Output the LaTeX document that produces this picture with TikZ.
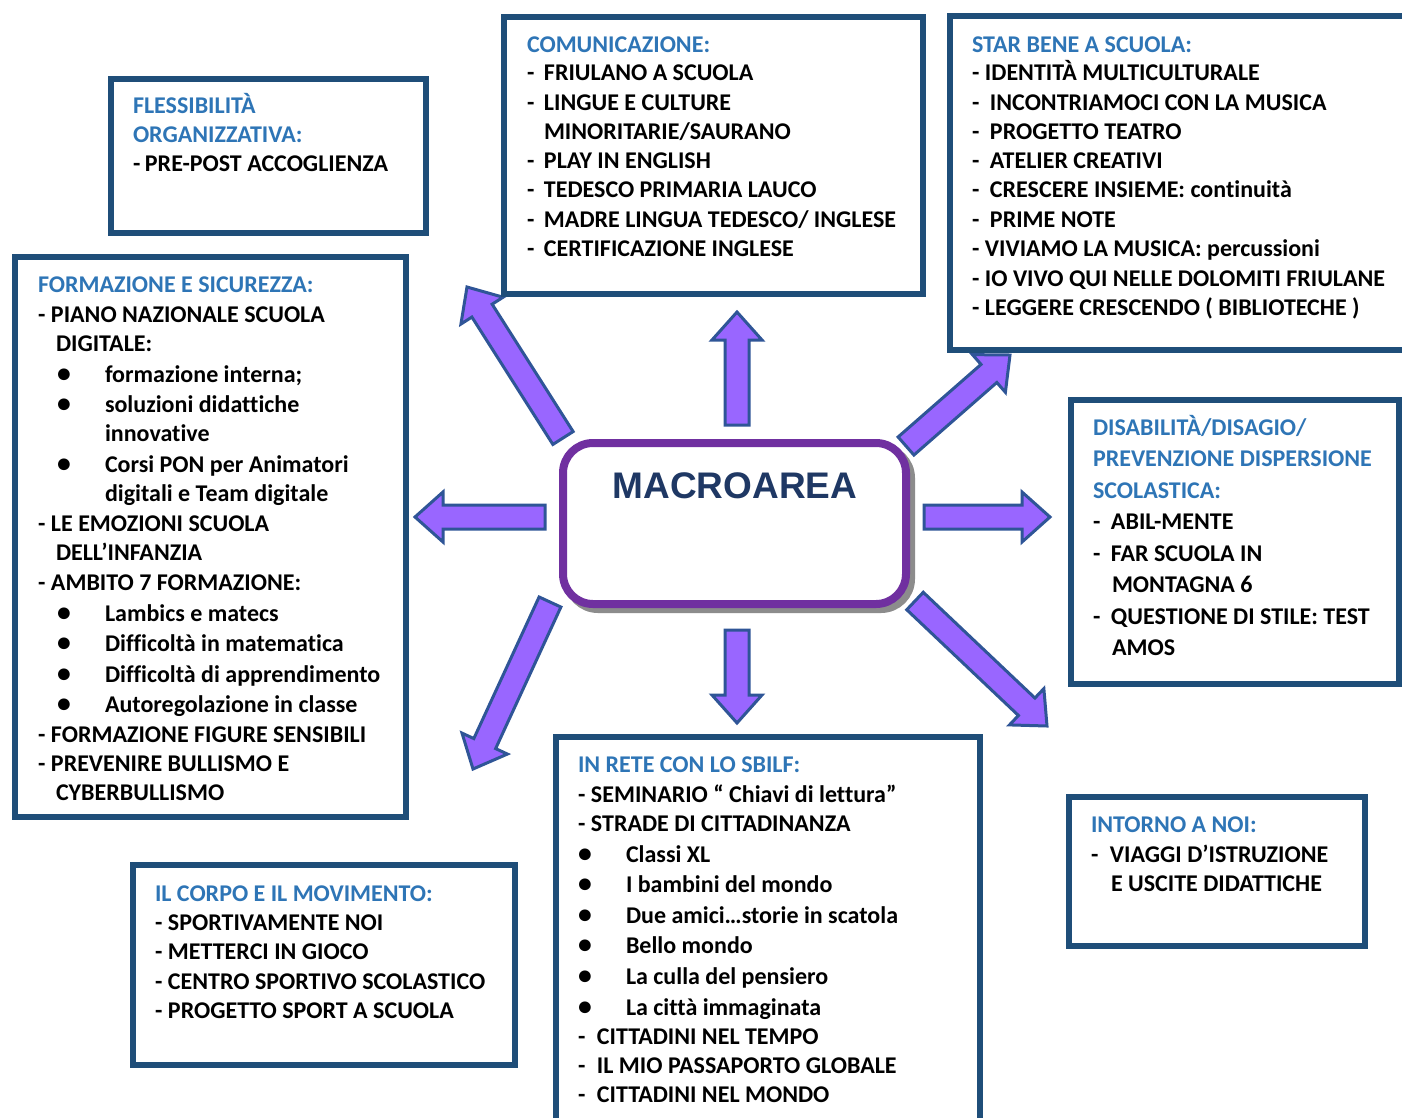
\documentclass[tikz,border=0pt]{standalone}
\usepackage{fontspec}
\newfontfamily\carlito{Carlito}[Ligatures=NoCommon]
\newfontfamily\arialf{Liberation Sans}
\usetikzlibrary{calc}
\definecolor{bordercol}{HTML}{1F4E79}
\definecolor{headblue}{HTML}{2E75B6}
\definecolor{arrowfill}{HTML}{9966FF}
\definecolor{arrowline}{HTML}{2F5597}
\definecolor{purplebox}{HTML}{7030A0}
\definecolor{titlecol}{HTML}{1F3864}
\newcommand\dsh[1]{\makebox[#1pt][l]{-}}
\newcommand\bul[1]{\makebox[#1pt][l]{\raisebox{-0.5pt}{\scalebox{1.15}{•}}}}
\newcommand\hd{\color{headblue}}
\def\sw{12pt}
\def\hw{25pt}
\def\hl{28pt}
\tikzset{
  panel/.style={draw=bordercol, line width=6pt, inner sep=0pt, outer sep=0pt},
  txt/.style={anchor=base west, inner sep=0pt, outer sep=0pt, text=black,
    font=\carlito\bfseries\fontsize{24}{28}\selectfont},
  barrow/.style={fill=arrowfill, draw=arrowline, line width=3pt, line join=miter},
}
\newcommand\mkpanel[5]{\node[panel, minimum width={(#4-#2)*1pt}, minimum height={(#5-#3)*1pt}] (#1) at ({(#2+#4)/2},{(#3+#5)/2}) {};}
\newcommand\boxlines[3]{\foreach \yy/\ltxt [count=\ii] in {#3} {\node[txt] (#1-\ii) at (#2,\yy+0.5) {\ltxt};}}
\newcommand\blockarrow[2]{%
 \coordinate (hb) at ($(#2)!\hl!(#1)$);
 \draw[barrow] ($(#1)!\sw!90:(#2)$) -- ($(hb)!\sw!-90:(#1)$) -- ($(hb)!\hw!-90:(#1)$) -- (#2) -- ($(hb)!\hw!90:(#1)$) -- ($(hb)!\sw!90:(#1)$) -- ($(#1)!\sw!-90:(#2)$) -- cycle;}
\begin{document}
\begin{tikzpicture}[x=1pt,y=-1pt]
\useasboundingbox (0,0) rectangle (1402,1117);
\clip (0,0) rectangle (1402,1117);
\fill[white] (0,0) rectangle (1402,1117);
% arrows
\coordinate (ua) at (737,425); \coordinate (ub) at (737,312);
\coordinate (da) at (737,630); \coordinate (db) at (737,723);
\coordinate (ra) at (924,517); \coordinate (rb) at (1050,517);
\coordinate (la) at (545,517); \coordinate (lb) at (415,517);
\coordinate (ula) at (563,438); \coordinate (ulb) at (467,287);
\coordinate (ura) at (906,446); \coordinate (urb) at (1010,355);
\coordinate (lra) at (915,601); \coordinate (lrb) at (1047,726);
\coordinate (lla) at (550,602); \coordinate (llb) at (473,769);
\blockarrow{ua}{ub}
\blockarrow{da}{db}
\blockarrow{ra}{rb}
\blockarrow{la}{lb}
\blockarrow{ula}{ulb}
\blockarrow{ura}{urb}
\blockarrow{lra}{lrb}
\blockarrow{lla}{llb}
% centre
\node[draw=black!45, fill=black!45, line width=8pt, rounded corners=30pt, minimum width=343pt, minimum height=161pt, inner sep=0pt] (shadow) at (739.5,528.5) {};
\node[draw=purplebox, fill=white, line width=8pt, rounded corners=30pt, minimum width=343pt, minimum height=161pt, inner sep=0pt] (macro) at (734.5,523.5) {};
\node[anchor=base, inner sep=0pt, text=titlecol, font=\arialf\bfseries\fontsize{37}{40}\selectfont] (title) at (735,498) {MACROAREA};
% panels
\mkpanel{fless}{110.5}{78.5}{426}{233}
\mkpanel{com}{504}{17}{923}{294}
\mkpanel{star}{949.5}{16}{1420}{350}
\mkpanel{form}{15}{257}{406}{817}
\mkpanel{dis}{1071}{400}{1399}{684}
\mkpanel{rete}{555.5}{737}{980}{1130}
\mkpanel{intorno}{1069}{797}{1365}{946}
\mkpanel{corpo}{133}{865}{515}{1065}
% texts
\boxlines{t1}{133}{112.5/{\hd FLESSIBILITÀ}, 141.5/{\hd ORGANIZZATIVA:}, 170.5/{\dsh{12}PRE-POST ACCOGLIENZA}}
\boxlines{t2}{527}{51.5/{\hd COMUNICAZIONE:}, 79.5/{\dsh{17}FRIULANO A SCUOLA}, 109.5/{\dsh{17}LINGUE E CULTURE}, 138.5/{\hspace*{17pt}MINORITARIE/SAURANO}, 167.5/{\dsh{17}PLAY IN ENGLISH}, 196.5/{\dsh{17}TEDESCO PRIMARIA LAUCO}, 226.5/{\dsh{17}MADRE LINGUA TEDESCO/ INGLESE}, 255.5/{\dsh{17}CERTIFICAZIONE INGLESE}}
\boxlines{t3}{972}{51.5/{\hd STAR BENE A SCUOLA:}, 79.5/{\dsh{13}IDENTITÀ MULTICULTURALE}, 109.5/{\dsh{18}INCONTRIAMOCI CON LA MUSICA}, 138.5/{\dsh{18}PROGETTO TEATRO}, 167.5/{\dsh{18}ATELIER CREATIVI}, 196.5/{\dsh{18}CRESCERE INSIEME: continuità}, 226.5/{\dsh{18}PRIME NOTE}, 255.5/{\dsh{13}VIVIAMO LA MUSICA: percussioni}, 285.5/{\dsh{13}IO VIVO QUI NELLE DOLOMITI FRIULANE}, 314.5/{\dsh{13}LEGGERE CRESCENDO ( BIBLIOTECHE )}}
\boxlines{t4}{38}{291.5/{\hd FORMAZIONE E SICUREZZA:}, 321.5/{\dsh{13}PIANO NAZIONALE SCUOLA}, 350.5/{\hspace*{18pt}DIGITALE:}, 381.5/{\hspace*{19pt}\bul{48}formazione interna;}, 411.5/{\hspace*{19pt}\bul{48}soluzioni didattiche}, 440.5/{\hspace*{67pt}innovative}, 471.5/{\hspace*{19pt}\bul{48}Corsi PON per Animatori}, 500.5/{\hspace*{67pt}digitali e Team digitale}, 530.5/{\dsh{13}LE EMOZIONI SCUOLA}, 559.5/{\hspace*{18pt}DELL’INFANZIA}, 589.5/{\dsh{13}AMBITO 7 FORMAZIONE:}, 620.5/{\hspace*{19pt}\bul{48}Lambics e matecs}, 650.5/{\hspace*{19pt}\bul{48}Difficoltà in matematica}, 681.5/{\hspace*{19pt}\bul{48}Difficoltà di apprendimento}, 711.5/{\hspace*{19pt}\bul{48}Autoregolazione in classe}, 741.5/{\dsh{13}FORMAZIONE FIGURE SENSIBILI}, 770.5/{\dsh{13}PREVENIRE BULLISMO E}, 799.5/{\hspace*{18pt}CYBERBULLISMO}}
\boxlines{t5}{1093}{434.5/{\hd DISABILITÀ/DISAGIO/}, 465.5/{\hd PREVENZIONE DISPERSIONE}, 497.5/{\hd SCOLASTICA:}, 528.5/{\dsh{18}ABIL-MENTE}, 560.5/{\dsh{18}FAR SCUOLA IN}, 591.5/{\hspace*{19pt}MONTAGNA 6}, 623.5/{\dsh{18}QUESTIONE DI STILE: TEST}, 654.5/{\hspace*{19pt}AMOS}}
\boxlines{t6}{578}{771.5/{\hd IN RETE CON LO SBILF:}, 801.5/{\dsh{13}SEMINARIO “ Chiavi di lettura”}, 830.5/{\dsh{13}STRADE DI CITTADINANZA}, 861.5/{\bul{48}Classi XL}, 891.5/{\bul{48}I bambini del mondo}, 922.5/{\bul{48}Due amici…storie in scatola}, 952.5/{\bul{48}Bello mondo}, 983.5/{\bul{48}La culla del pensiero}, 1014.5/{\bul{48}La città immaginata}, 1043.5/{\dsh{19}CITTADINI NEL TEMPO}, 1072.5/{\dsh{19}IL MIO PASSAPORTO GLOBALE}, 1101.5/{\dsh{19}CITTADINI NEL MONDO}}
\boxlines{t7}{1091}{831.5/{\hd INTORNO A NOI:}, 861.5/{\dsh{19}VIAGGI D’ISTRUZIONE}, 890.5/{\hspace*{20pt}E USCITE DIDATTICHE}}
\boxlines{t8}{155}{900.5/{\hd IL CORPO E IL MOVIMENTO:}, 929.5/{\dsh{13}SPORTIVAMENTE NOI}, 958.5/{\dsh{13}METTERCI IN GIOCO}, 988.5/{\dsh{13}CENTRO SPORTIVO SCOLASTICO}, 1017.5/{\dsh{13}PROGETTO SPORT A SCUOLA}}
\end{tikzpicture}
\end{document}
